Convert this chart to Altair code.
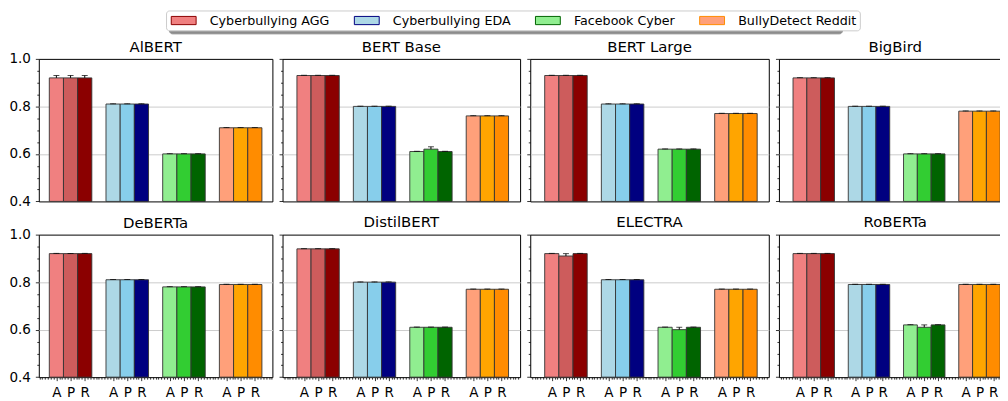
import math
import altair as alt
import pandas as pd

# ---------------- data ----------------
models = ["AlBERT", "BERT Base", "BERT Large", "BigBird",
          "DeBERTa", "DistilBERT", "ELECTRA", "RoBERTa"]
datasets = ["Cyberbullying AGG", "Cyberbullying EDA", "Facebook Cyber", "BullyDetect Reddit"]
metrics = ["A", "P", "R"]

# values per model: AGG(A,P,R), EDA(A,P,R), Facebook(A,P,R), Reddit(A,P,R)
albert      = [0.92, 0.92, 0.92, 0.81, 0.81, 0.81, 0.60, 0.60, 0.60, 0.71, 0.71, 0.71]
bert_base   = [0.93, 0.93, 0.93, 0.80, 0.80, 0.80, 0.61, 0.62, 0.61, 0.76, 0.76, 0.76]
bert_large  = [0.93, 0.93, 0.93, 0.81, 0.81, 0.81, 0.62, 0.62, 0.62, 0.77, 0.77, 0.77]
bigbird     = [0.92, 0.92, 0.92, 0.80, 0.80, 0.80, 0.60, 0.60, 0.60, 0.78, 0.78, 0.78]
deberta     = [0.92, 0.92, 0.92, 0.81, 0.81, 0.81, 0.78, 0.78, 0.78, 0.79, 0.79, 0.79]
distilbert  = [0.94, 0.94, 0.94, 0.80, 0.80, 0.80, 0.61, 0.61, 0.61, 0.77, 0.77, 0.77]
electra     = [0.92, 0.91, 0.92, 0.81, 0.81, 0.81, 0.61, 0.60, 0.61, 0.77, 0.77, 0.77]
roberta     = [0.92, 0.92, 0.92, 0.79, 0.79, 0.79, 0.62, 0.61, 0.62, 0.79, 0.79, 0.79]

albert_err      = [0.01, 0.01, 0.01, 0.001, 0.001, 0.001, 0.001, 0.001, 0.001, 0.001, 0.001, 0.001]
bert_base_err   = [0.001, 0.001, 0.001, 0.001, 0.001, 0.001, 0.001, 0.01, 0.001, 0.001, 0.001, 0.001]
bert_large_err  = [0.001] * 12
bigbird_err     = [0.001] * 12
deberta_err     = [0.001] * 12
distilbert_err  = [0.001] * 12
electra_err     = [0.001, 0.01, 0.001, 0.001, 0.001, 0.001, 0.001, 0.01, 0.001, 0.001, 0.001, 0.001]
roberta_err     = [0.001, 0.001, 0.001, 0.001, 0.001, 0.001, 0.001, 0.01, 0.001, 0.001, 0.001, 0.001]

scores = [albert, bert_base, bert_large, bigbird, deberta, distilbert, electra, roberta]
errors = [albert_err, bert_base_err, bert_large_err, bigbird_err,
          deberta_err, distilbert_err, electra_err, roberta_err]

bar_colors = [["#F08080", "#CD5C5C", "#8B0000"],
              ["#ADD8E6", "#87CEEB", "#000080"],
              ["#90EE90", "#32CD32", "#006400"],
              ["#FFA07A", "#FFA500", "#FF8C00"]]
legend_fill = ["#F08080", "#ADD8E6", "#90EE90", "#FFA07A"]
legend_edge = ["#8B0000", "#000080", "#006400", "#FF8C00"]

# ---------------- table ----------------
rows = []
for mi, m in enumerate(models):
    for di, d in enumerate(datasets):
        for k, met in enumerate(metrics):
            i = di * 3 + k
            xc = di + (k - 1) * 0.25
            rows.append(dict(model=m, dataset=d, ds_shadow=d, metric=met,
                             value=scores[mi][i], top=scores[mi][i] + errors[mi][i],
                             base=0.4, xc=xc, x0=xc - 0.125, x1=xc + 0.125,
                             color=bar_colors[di][k]))
df = pd.DataFrame(rows)

FONT = "DejaVu Sans"
Y_MAJOR = "abs(datum.value*5 - round(datum.value*5)) < 0.01"
Y_GRID = "(abs(datum.value*5 - round(datum.value*5)) < 0.01) && datum.value > 0.45 && datum.value < 0.95"
X_MAJOR = ("(abs(datum.value - round(datum.value)) < 0.01) || "
           "(abs(abs(datum.value - round(datum.value)) - 0.25) < 0.01)")
y_ticks = [round(0.4 + 0.05 * i, 2) for i in range(13)]


def x_ticks(lo, hi):
    n0 = int(math.ceil(lo / 0.05 - 1e-9))
    n1 = int(math.floor(hi / 0.05 + 1e-9))
    return [round(k * 0.05, 2) for k in range(n0, n1 + 1)]


widths = [235, 239, 240, 234]
domains = [(-0.56, 3.56), (-0.63, 3.58), (-0.63, 3.58), (-0.63, 3.58)]
PH = 143.4
SYM = "M-1,-0.66L3,-0.66L3,0.66L-1,0.66Z"

LEG_X = 128
LEG_Y = -48.7
legend_main = alt.Legend(
    title=None, orient="none", legendX=LEG_X, legendY=LEG_Y, direction="horizontal",
    symbolType=SYM, symbolSize=156.25, symbolStrokeWidth=1, symbolOffset=1.5,
    labelFont=FONT, labelFontSize=12.75, labelColor="black", labelOffset=25.5,
    columnPadding=22.2, padding=3, strokeColor="#cccccc", fillColor="white",
    cornerRadius=3, zindex=1, labelLimit=0)
legend_shadow = alt.Legend(
    title=None, orient="none", legendX=LEG_X + 3, legendY=LEG_Y + 3, direction="horizontal",
    symbolType=SYM, symbolSize=156.25, symbolStrokeWidth=1, symbolOpacity=0,
    labelFont=FONT, labelFontSize=12.75, labelExpr="' '", labelOffset=136.9,
    columnPadding=22.2, padding=3, strokeColor="#8c8c8c", fillColor="#8c8c8c",
    cornerRadius=3, zindex=0, labelLimit=0)


def panel(idx):
    m = models[idx]
    row, col = divmod(idx, 4)
    lo, hi = domains[col]
    xs = alt.Scale(domain=[lo, hi], nice=False, zero=False)
    ys = alt.Scale(domain=[0.4, 1.0], nice=False, zero=False)
    if row == 1:
        xaxis = alt.Axis(
            values=x_ticks(lo, hi), title=None, grid=False, domain=False,
            labelExpr=f"({X_MAJOR}) ? ['A','P','R'][round((datum.value - round(datum.value))*4) + 1] : ''",
            tickSize={"condition": {"test": X_MAJOR, "value": 3.5}, "value": 2},
            tickColor="black", tickWidth=0.8, labelColor="black", labelFont=FONT,
            labelFontSize=13.6, labelPadding=5, labelOverlap=False, labelFlush=False)
    else:
        xaxis = None
    yaxis = alt.Axis(
        values=y_ticks, title=None, domain=False,
        grid=True, gridColor="#cccccc", gridWidth=1,
        gridOpacity={"condition": {"test": Y_GRID, "value": 1}, "value": 0},
        labels=(col == 0),
        labelExpr=f"({Y_MAJOR}) ? format(datum.value, '.1f') : ''",
        tickSize={"condition": {"test": Y_MAJOR, "value": 3.5}, "value": 2},
        tickColor="black", tickWidth=0.8, labelColor="black", labelFont=FONT,
        labelFontSize=13.6, labelPadding=5, labelOverlap=False, labelFlush=False)

    X = lambda f: alt.X(f, scale=xs, axis=xaxis)
    Y = lambda f: alt.Y(f, scale=ys, axis=yaxis)
    base = alt.Chart(df).transform_filter(alt.datum.model == m)
    bars = base.mark_bar(stroke="#333333", strokeWidth=1, strokeOpacity=0.9).encode(
        x=X("x0:Q"), x2="x1:Q", y=Y("value:Q"), y2="base:Q",
        fill=alt.Fill("color:N", scale=None))
    rule = base.mark_rule(color="black", strokeWidth=1).encode(
        x=X("xc:Q"), y=Y("value:Q"), y2="top:Q")
    cap = base.mark_tick(color="black", thickness=1, size=6, orient="horizontal").encode(
        x=X("xc:Q"), y=Y("top:Q"))
    layers = [bars, rule, cap]
    if idx == 0:
        leg = base.mark_point(filled=True, size=0).encode(
            x=X("xc:Q"), y=Y("value:Q"),
            fill=alt.Fill("dataset:N", scale=alt.Scale(domain=datasets, range=legend_fill),
                          legend=legend_main),
            stroke=alt.Stroke("dataset:N", scale=alt.Scale(domain=datasets, range=legend_edge),
                              legend=legend_main),
            shape=alt.Shape("ds_shadow:N", scale=alt.Scale(range=[SYM] * 4),
                            legend=legend_shadow))
        layers.append(leg)
    # first-column panels carry the y labels, whose top label pokes ~7px above the frame
    t_off = -3 if col == 0 else 4
    return alt.layer(*layers).properties(
        width=widths[col], height=PH,
        title=alt.TitleParams(text=m, fontSize=15, font=FONT, fontWeight="normal",
                              color="black", offset=t_off, frame="group",
                              anchor="middle"))


top = alt.hconcat(*[panel(i) for i in range(4)], spacing=4.2)
bottom = alt.hconcat(*[panel(i) for i in range(4, 8)], spacing=4.2)
# the last panel runs past the right edge, as in the reference; the negative right
# padding keeps the drawing within 992px so the page never shrinks it
chart = alt.vconcat(top, bottom, spacing=5.8).properties(
    padding={"left": 0, "top": 0, "right": -13, "bottom": 0}
).configure(font=FONT).configure_view(stroke="black", strokeWidth=1)

chart.save("out.html", embed_options={"renderer": "svg", "actions": False})
